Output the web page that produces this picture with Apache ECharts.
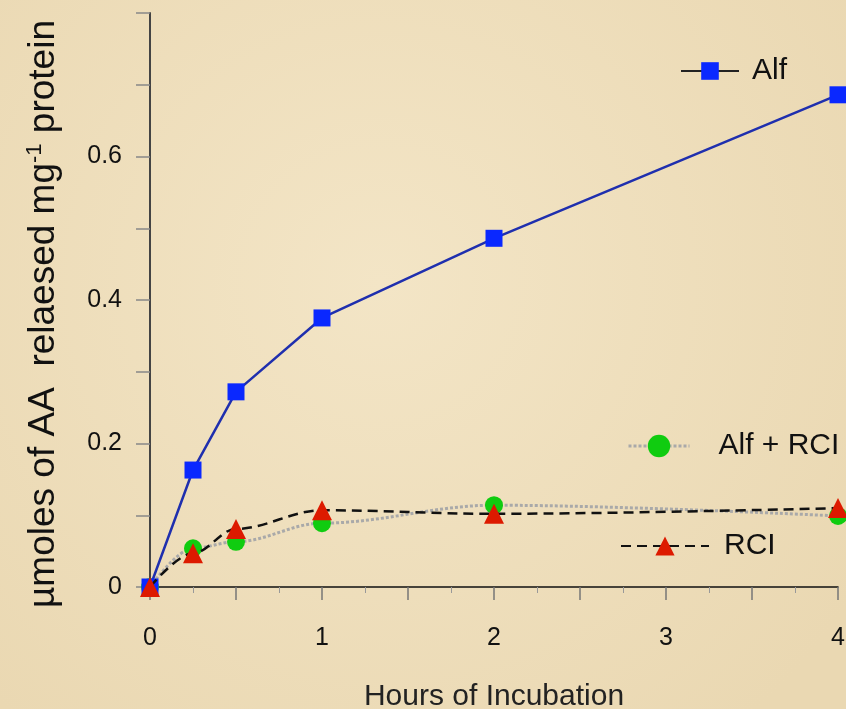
<!DOCTYPE html>
<html>
<head>
<meta charset="utf-8">
<script src="https://cdn.jsdelivr.net/npm/echarts@6/dist/echarts.min.js"></script>
<style>
  html, body { margin: 0; padding: 0; background: #efdfbd; }
  #chart { width: 846px; height: 709px; }
</style>
</head>
<body>
<div id="chart"></div>
<script>
// hours of incubation
const hours = [0, 0.25, 0.5, 1, 2, 4]
// umol AA released per mg protein
const alf = [0, 0.163, 0.272, 0.375, 0.486, 0.686]
const alfRci = [0, 0.054, 0.063, 0.089, 0.114, 0.099]
const rci = [0, 0.047, 0.081, 0.107, 0.102, 0.110]
const xTickLabels = ["0", "1", "2", "3", "4"]
const yTickLabels = ["0", "0.2", "0.4", "0.6"]

const pairs = (ys) => hours.map((h, i) => [h, ys[i]])

const chart = echarts.init(document.getElementById("chart"))
const font = "Liberation Sans, Arial, sans-serif"

const option = {
  backgroundColor: {
    type: "radial",
    x: 0.45, y: 0.4, r: 0.8,
    colorStops: [
      { offset: 0, color: "#f3e5c6" },
      { offset: 1, color: "#ead8b2" },
    ],
  },
  textStyle: { fontFamily: font, color: "#111" },
  grid: { left: 150, right: 8, top: 13, bottom: 122, containLabel: false, outerBoundsMode: "none" },
  legend: [
    {
      data: ["Alf"],
      left: 675, top: 51,
      itemWidth: 58, itemHeight: 22,
      lineStyle: { color: "#222", width: 2, type: "solid" },
      textStyle: { fontSize: 30, color: "#111", padding: [0, 0, 0, 8] },
    },
    {
      data: ["Alf + RCI"],
      left: 622, top: 426,
      itemWidth: 61, itemHeight: 28,
      lineStyle: { width: 3, type: [3, 2] },
      textStyle: { fontSize: 30, color: "#111", padding: [0, 0, 0, 24] },
    },
    {
      data: ["RCI"],
      left: 615, top: 526,
      itemWidth: 88, itemHeight: 24,
      textStyle: { fontSize: 30, color: "#111", padding: [0, 0, 0, 10] },
    },
  ],
  xAxis: {
    type: "value",
    min: 0, max: 4, interval: 0.5,
    name: "Hours of Incubation",
    nameLocation: "middle",
    nameGap: 95,
    nameTextStyle: { fontSize: 30, color: "#222" },
    axisLine: { lineStyle: { color: "#111", width: 1.5 } },
    axisTick: { show: true, length: 13, lineStyle: { color: "#777", width: 1.5 } },
    minorTick: { show: true, splitNumber: 2, length: 6, lineStyle: { color: "#999" } },
    splitLine: { show: false },
    axisLabel: {
      fontSize: 25, color: "#111", margin: 39,
      formatter: (v) => (Number.isInteger(v) ? xTickLabels[v] : ""),
    },
  },
  yAxis: {
    type: "value",
    min: 0, max: 0.8, interval: 0.1,
    name: "{a|\u00b5moles of AA  relaesed mg}{s|-1}{a| protein}",
    nameLocation: "middle",
    nameRotate: 90,
    nameGap: 86,
    nameTextStyle: {
      padding: [0, 28, 0, 0],
      rich: {
        a: { fontSize: 37, color: "#111", fontFamily: font },
        s: { fontSize: 22, color: "#111", fontFamily: font, padding: [0, 0, 18, 0] },
      },
    },
    axisLine: { lineStyle: { color: "#444", width: 2 } },
    axisTick: { show: true, length: 14, lineStyle: { color: "#888", width: 1.5 } },
    splitLine: { show: false },
    axisLabel: {
      fontSize: 25, color: "#111", margin: 28,
      formatter: (v) => {
        const i = Math.round(v * 10)
        return i % 2 === 0 && i / 2 < yTickLabels.length ? yTickLabels[i / 2] : ""
      },
    },
  },
  series: [
    {
      name: "Alf",
      type: "line",
      data: pairs(alf),
      symbol: "rect",
      symbolSize: 17,
      lineStyle: { color: "#1f2fae", width: 2.5 },
      itemStyle: { color: "#0a28ff" },
      z: 3,
    },
    {
      name: "Alf + RCI",
      type: "line",
      data: pairs(alfRci),
      smooth: 0.35,
      smoothMonotone: "x",
      symbol: "circle",
      symbolSize: 18,
      lineStyle: { color: "#a9a9a9", width: 3, type: [3, 2] },
      itemStyle: { color: "#10cc10" },
      z: 2,
    },
    {
      name: "RCI",
      type: "line",
      data: pairs(rci),
      smooth: 0.35,
      smoothMonotone: "x",
      symbol: "triangle",
      symbolSize: 20,
      lineStyle: { color: "#111", width: 2.5, type: [10, 6] },
      itemStyle: { color: "#dd1a00" },
      z: 4,
    },
  ],
}

chart.setOption(option)
</script>
</body>
</html>
